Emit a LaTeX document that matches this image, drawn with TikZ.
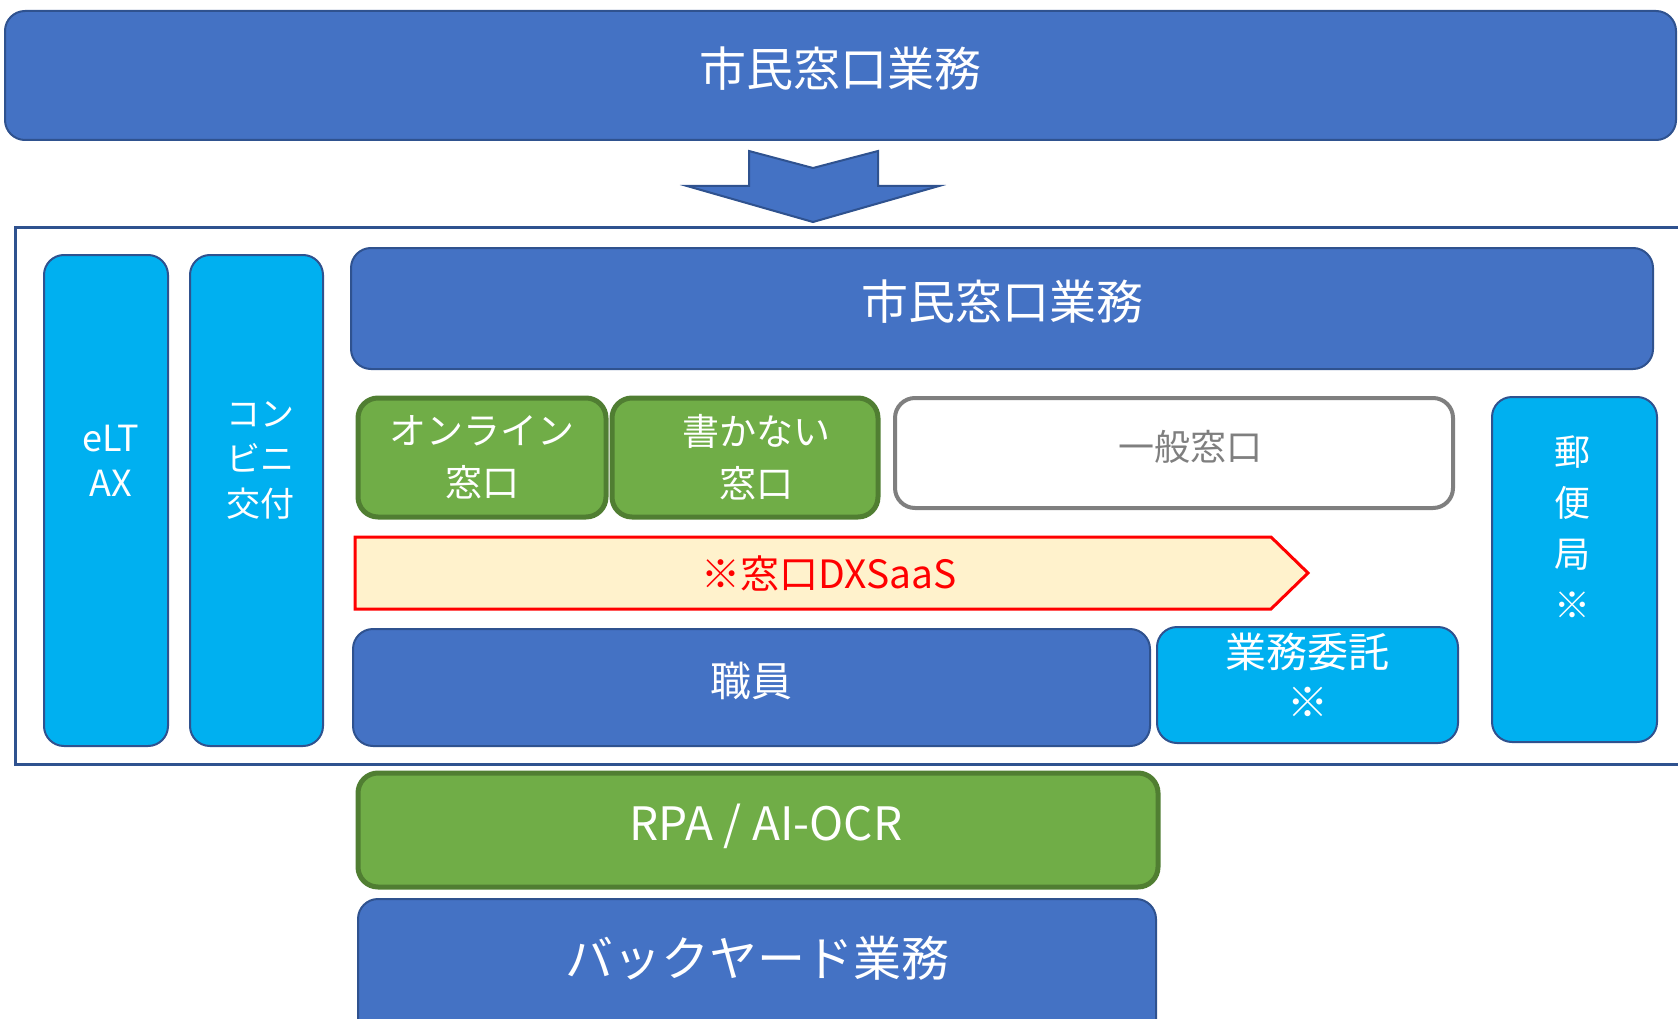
\documentclass[tikz,border=0pt]{standalone}
\usepackage{fontspec}
\setmainfont{Noto Sans CJK JP}
\usetikzlibrary{positioning}
\definecolor{bluefill}{HTML}{4472C4}
\definecolor{blueline}{HTML}{2F528F}
\definecolor{cyanfill}{HTML}{00B0F0}
\definecolor{greenfill}{HTML}{70AD47}
\definecolor{greenline}{HTML}{507E32}
\definecolor{grayline}{HTML}{7F7F7F}
\definecolor{saasfill}{HTML}{FFF2CC}
\definecolor{saasline}{HTML}{FF0000}
\newcommand{\fs}[2]{\fontsize{#1}{#2}\selectfont}
\tikzset{
  box/.style={inner sep=0pt, align=center, text=white, line width=2pt, rounded corners=20pt},
  bluebox/.style={box, draw=blueline, fill=bluefill},
  cyanbox/.style={box, draw=blueline, fill=cyanfill},
  greenbox/.style={box, draw=greenline, fill=greenfill, line width=5pt},
  graybox/.style={box, draw=grayline, fill=white, text=grayline, line width=4pt},
  boxtext/.style={inner sep=0pt, align=center, text=white},
}
\begin{document}
\begin{tikzpicture}[x=1pt, y=-1pt]
  \useasboundingbox (0,0) rectangle (1678,1019);
  % top
  \node[bluebox, minimum width=1671pt, minimum height=129pt, font=\fs{47}{52}, text depth=17pt] (top) at (840.5,75.5) {市民窓口業務};
  \draw[draw=blueline, fill=bluefill, line width=2pt, line join=miter]
    (749,151) -- (813,168) -- (878,151) -- (878,186) -- (939,186)
    -- (813,222) -- (687,186) -- (749,186) -- cycle;
  % frame
  \draw[blueline, line width=3pt] (1700,227) -- (15,227) -- (15,764) -- (1700,764);
  % left columns
  \node[cyanbox, minimum width=124pt, minimum height=491pt] (eltax) at (106,500.5) {};
  \node[boxtext, font=\fs{36}{45}] at (111,461) {eLT\\AX};
  \node[cyanbox, minimum width=133pt, minimum height=491pt] (conv) at (256.5,500.5) {};
  \node[boxtext, font=\fs{34}{45}] at (260,460) {コン\\ビニ\\交付};
  % inner
  \node[bluebox, minimum width=1302pt, minimum height=121pt, font=\fs{47}{52}, text depth=18pt] (inner) at (1002,308.5) {市民窓口業務};
  \node[greenbox, minimum width=248pt, minimum height=119pt, font=\fs{37}{52}] (online) at (482,457.5) {オンライン\\窓口};
  \node[greenbox, minimum width=266pt, minimum height=119pt] (nowrite) at (745,457.5) {};
  \node[boxtext, font=\fs{37}{52}] at (756,457.5) {書かない\\窓口};
  \node[graybox, minimum width=558pt, minimum height=110pt] (general) at (1174,453) {};
  \node[boxtext, text=grayline, font=\fs{36}{44}] at (1190,447) {一般窓口};
  \draw[draw=saasline, fill=saasfill, line width=3pt, line join=miter]
    (355,537) -- (1271,537) -- (1308,573) -- (1271,609) -- (355,609) -- cycle;
  \node[inner sep=0pt, text=saasline, font=\fs{39}{44}] (saas) at (829,573) {※窓口DXSaaS};
  \node[bluebox, minimum width=797pt, minimum height=117pt, font=\fs{41}{52}, text depth=17pt] (staff) at (751.5,687.5) {職員};
  \node[cyanbox, minimum width=301pt, minimum height=116pt, font=\fs{41}{50}, text depth=20pt] (outsrc) at (1307.5,685) {業務委託\\※};
  \node[cyanbox, minimum width=165pt, minimum height=345pt] (post) at (1574.5,569.5) {};
  \node[boxtext, font=\fs{36}{51}] at (1572,527) {郵\\便\\局\\※};
  % bottom
  \node[greenbox, minimum width=800pt, minimum height=114pt] (rpa) at (758,830) {};
  \node[boxtext, font=\fs{46}{50}] at (766,826) {RPA / AI-OCR};
  \node[bluebox, minimum width=798pt, minimum height=140pt] (back) at (757,969) {};
  \node[boxtext, font=\fs{48}{52}] at (757,958) {バックヤード業務};
\end{tikzpicture}
\end{document}
